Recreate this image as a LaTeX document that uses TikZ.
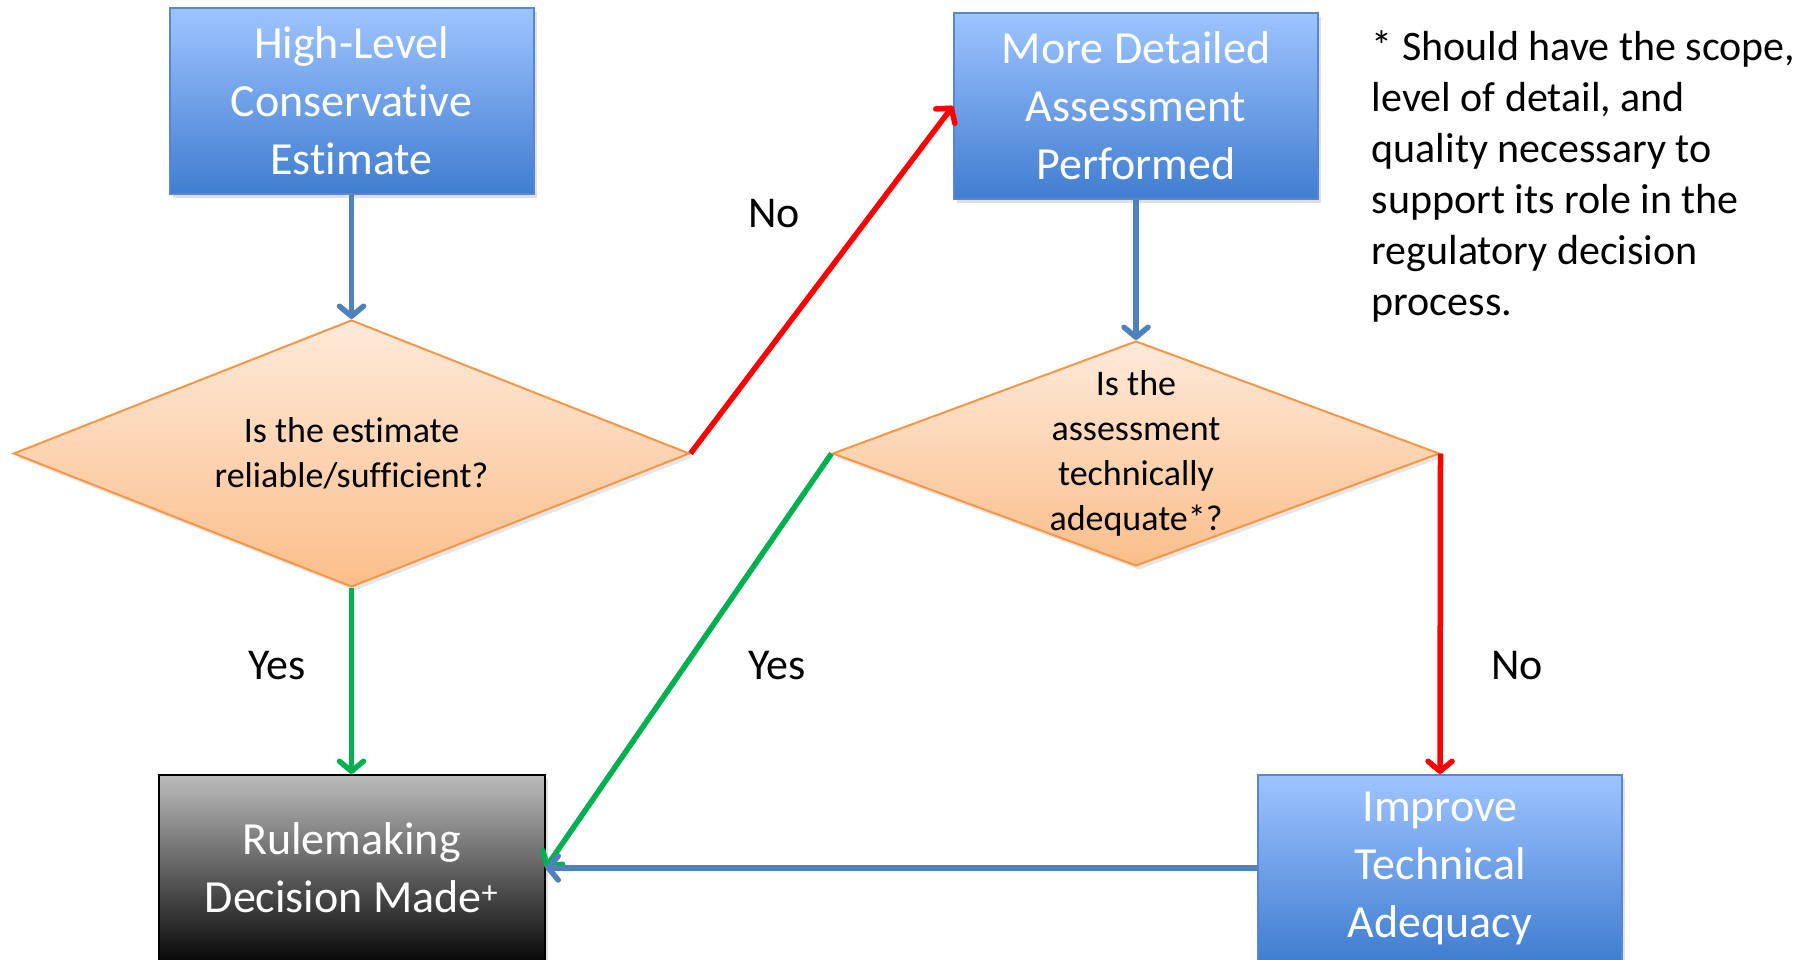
\documentclass[tikz,border=0pt]{standalone}
\usepackage{fontspec}
\setmainfont{Carlito}[Ligatures=NoCommon]
\usetikzlibrary{arrows.meta,%
                shapes.geometric,%
                shadows}

\definecolor{boxtop}{RGB}{158,196,255}
\definecolor{boxbot}{RGB}{64,125,208}
\definecolor{boxedge}{RGB}{88,136,200}
\definecolor{dectop}{RGB}{254,234,218}
\definecolor{decbot}{RGB}{251,190,138}
\definecolor{decedge}{RGB}{247,150,70}
\definecolor{ruletop}{RGB}{188,188,188}
\definecolor{rulebot}{RGB}{8,8,8}
\definecolor{lineblue}{RGB}{79,129,189}
\definecolor{linered}{RGB}{255,0,0}
\definecolor{linegreen}{RGB}{0,176,80}

\begin{document}
\begin{tikzpicture}[x=1pt,y=-1pt,->,>={Straight Barb[length=10pt,width=24pt,round]},line width=5.5pt]
  \tikzstyle{box}=[rectangle,draw=boxedge,line width=2pt,top color=boxtop,bottom color=boxbot,
    minimum width=364pt,minimum height=186pt,text=white,align=center,
    font=\fontsize{46}{58}\selectfont,
    drop shadow={shadow xshift=3pt,shadow yshift=-4pt,opacity=0.25}]
  \tikzstyle{decision}=[diamond,draw=decedge,line width=2pt,top color=dectop,bottom color=decbot,inner sep=0pt,
    drop shadow={shadow xshift=3pt,shadow yshift=-4pt,opacity=0.2}]
  \tikzstyle{question}=[align=center,font=\fontsize{36}{45}\selectfont]
  \tikzstyle{answer}=[font=\fontsize{44}{53}\selectfont]
  \tikzstyle{note}=[align=left,inner sep=0pt,font=\fontsize{42}{51}\selectfont]
  \path[use as bounding box] (0,0) rectangle (1812,960);
  \node[box] (B_1) at (351.5,101) {High-Level\\Conservative\\Estimate};
  \node[box] (B_2) at (1136,106)  {More Detailed\\Assessment\\Performed};
  \node[box,minimum width=386pt,draw=black,top color=ruletop,bottom color=rulebot] (B_3) at (351.5,868) {Rulemaking\\Decision Made\textsuperscript{+}};
  \node[box] (B_4) at (1440,868)  {Improve\\Technical\\Adequacy};
  \node[decision,minimum width=676pt,minimum height=267pt] (D_1) at (351.5,453.5) {};
  \node[question] (Q_1) at (D_1) {Is the estimate\\reliable/sufficient?};
  \node[decision,minimum width=607pt,minimum height=225pt] (D_2) at (1136,453.5) {};
  \node[question] (Q_2) at (D_2) {Is the\\assessment\\technically\\adequate*?};
  \node[answer] (A_1) at (774,214)  {No};
  \node[answer] (A_2) at (277,666)  {Yes};
  \node[answer] (A_3) at (777,666)  {Yes};
  \node[answer] (A_4) at (1517,666) {No};
  \node[note,anchor=north west] (N_1) at (1369,28) {* Should have the scope,\\level of detail, and\\quality necessary to\\support its role in the\\regulatory decision\\process.};
  \draw[lineblue]  (B_1) -- (D_1);
  \draw[linered]   (D_1.east) -- (B_2.west);
  \draw[linegreen] (D_1) -- (B_3);
  \draw[lineblue]  (B_2) -- (D_2);
  \draw[linegreen] (D_2.west) -- (B_3.east);
  \draw[linered]   (D_2.east) -- (B_4.north);
  \draw[lineblue]  (B_4) -- (B_3);
\end{tikzpicture}
\end{document}
